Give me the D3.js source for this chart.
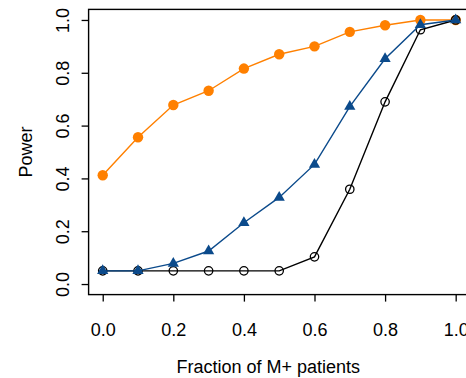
<!DOCTYPE html>
<html>
<head>
<meta charset="utf-8">
<script src="https://cdn.jsdelivr.net/npm/d3@7"></script>
<style>
  body { margin: 0; background: #fff; }
  svg { display: block; font-family: "Liberation Sans", Arial, Helvetica, sans-serif; }
</style>
</head>
<body>
<div id="chart"></div>
<script>
const fractions = [0.0, 0.1, 0.2, 0.3, 0.4, 0.5, 0.6, 0.7, 0.8, 0.9, 1.0];
const powerOrange = [0.412, 0.556, 0.678, 0.732, 0.816, 0.870, 0.900, 0.955, 0.980, 1.0, 1.0];
const powerBlue = [0.05, 0.05, 0.078, 0.125, 0.232, 0.328, 0.453, 0.672, 0.853, 0.982, 1.0];
const powerBlack = [0.05, 0.05, 0.05, 0.05, 0.05, 0.05, 0.103, 0.359, 0.690, 0.963, 1.0];
const xTicks = [0, 0.2, 0.4, 0.6, 0.8, 1.0];
const yTicks = [0, 0.2, 0.4, 0.6, 0.8, 1.0];

const width = 466;
const height = 378;

const x = d3.scaleLinear().domain([-0.04, 1.04]).range([88.6, 469.8]);
const y = d3.scaleLinear().domain([-0.04, 1.04]).range([294.6, 9.4]);

const svg = d3.select("#chart")
    .append("svg")
    .attr("width", width)
    .attr("height", height);

// x axis
const xAxis = svg.append("g")
    .attr("transform", `translate(0, ${y(-0.04)})`)
    .call(d3.axisBottom(x).tickValues(xTicks).tickFormat(d3.format(".1f")).tickSize(7).tickSizeOuter(0));
xAxis.select(".domain").remove();
xAxis.selectAll("line").attr("stroke", "#000").attr("stroke-width", 1.3);
xAxis.selectAll("text")
    .attr("y", 0).attr("dy", 0)
    .attr("transform", "translate(0, 41)")
    .attr("fill", "#000")
    .style("font-size", "18px")
    .style("font-family", "Liberation Sans, Arial, sans-serif");

// y axis
const yAxis = svg.append("g")
    .attr("transform", `translate(${x(-0.04)}, 0)`)
    .call(d3.axisLeft(y).tickValues(yTicks).tickFormat(d3.format(".1f")).tickSize(7).tickSizeOuter(0));
yAxis.select(".domain").remove();
yAxis.selectAll("line").attr("stroke", "#000").attr("stroke-width", 1.3);
yAxis.selectAll("text")
    .attr("x", 0).attr("dy", 0)
    .attr("transform", "translate(-20, 0) rotate(-90)")
    .attr("text-anchor", "middle")
    .attr("fill", "#000")
    .style("font-size", "18px")
    .style("font-family", "Liberation Sans, Arial, sans-serif");

// box
svg.append("rect")
    .attr("x", x(-0.04))
    .attr("y", y(1.04))
    .attr("width", x(1.04) - x(-0.04))
    .attr("height", y(-0.04) - y(1.04))
    .attr("fill", "none")
    .attr("stroke", "#000")
    .attr("stroke-width", 1.4);

// axis titles
svg.append("text")
    .attr("x", (x(-0.04) + x(1.04)) / 2 - 11)
    .attr("y", 373)
    .attr("text-anchor", "middle")
    .style("font-size", "18px")
    .text("Fraction of M+ patients");

svg.append("text")
    .attr("transform", `translate(32, ${(y(-0.04) + y(1.04)) / 2}) rotate(-90)`)
    .attr("text-anchor", "middle")
    .style("font-size", "18px")
    .text("Power");

const line = d3.line()
    .x(d => x(d[0]))
    .y(d => y(d[1]));

const series = [
    { values: powerOrange, color: "#ff8000", marker: "dot" },
    { values: powerBlack, color: "#000000", marker: "ring" },
    { values: powerBlue, color: "#0b4a8b", marker: "tri" }
];

series.forEach(s => {
    const pts = fractions.map((f, i) => [f, s.values[i]]);
    const g = svg.append("g");
    g.append("path")
        .attr("d", line(pts))
        .attr("fill", "none")
        .attr("stroke", s.color)
        .attr("stroke-width", 1.4);

    if (s.marker === "dot") {
        g.selectAll("circle").data(pts).enter().append("circle")
            .attr("cx", d => x(d[0]))
            .attr("cy", d => y(d[1]))
            .attr("r", 5.2)
            .attr("fill", s.color);
    } else if (s.marker === "ring") {
        g.selectAll("circle").data(pts).enter().append("circle")
            .attr("cx", d => x(d[0]))
            .attr("cy", d => y(d[1]))
            .attr("r", 4.2)
            .attr("fill", "none")
            .attr("stroke", s.color)
            .attr("stroke-width", 1.3);
    } else {
        g.selectAll("path.tri").data(pts).enter().append("path")
            .attr("class", "tri")
            .attr("d", d3.symbol().type(d3.symbolTriangle).size(55))
            .attr("transform", d => `translate(${x(d[0])}, ${y(d[1])})`)
            .attr("fill", s.color);
    }
});
</script>
</body>
</html>
